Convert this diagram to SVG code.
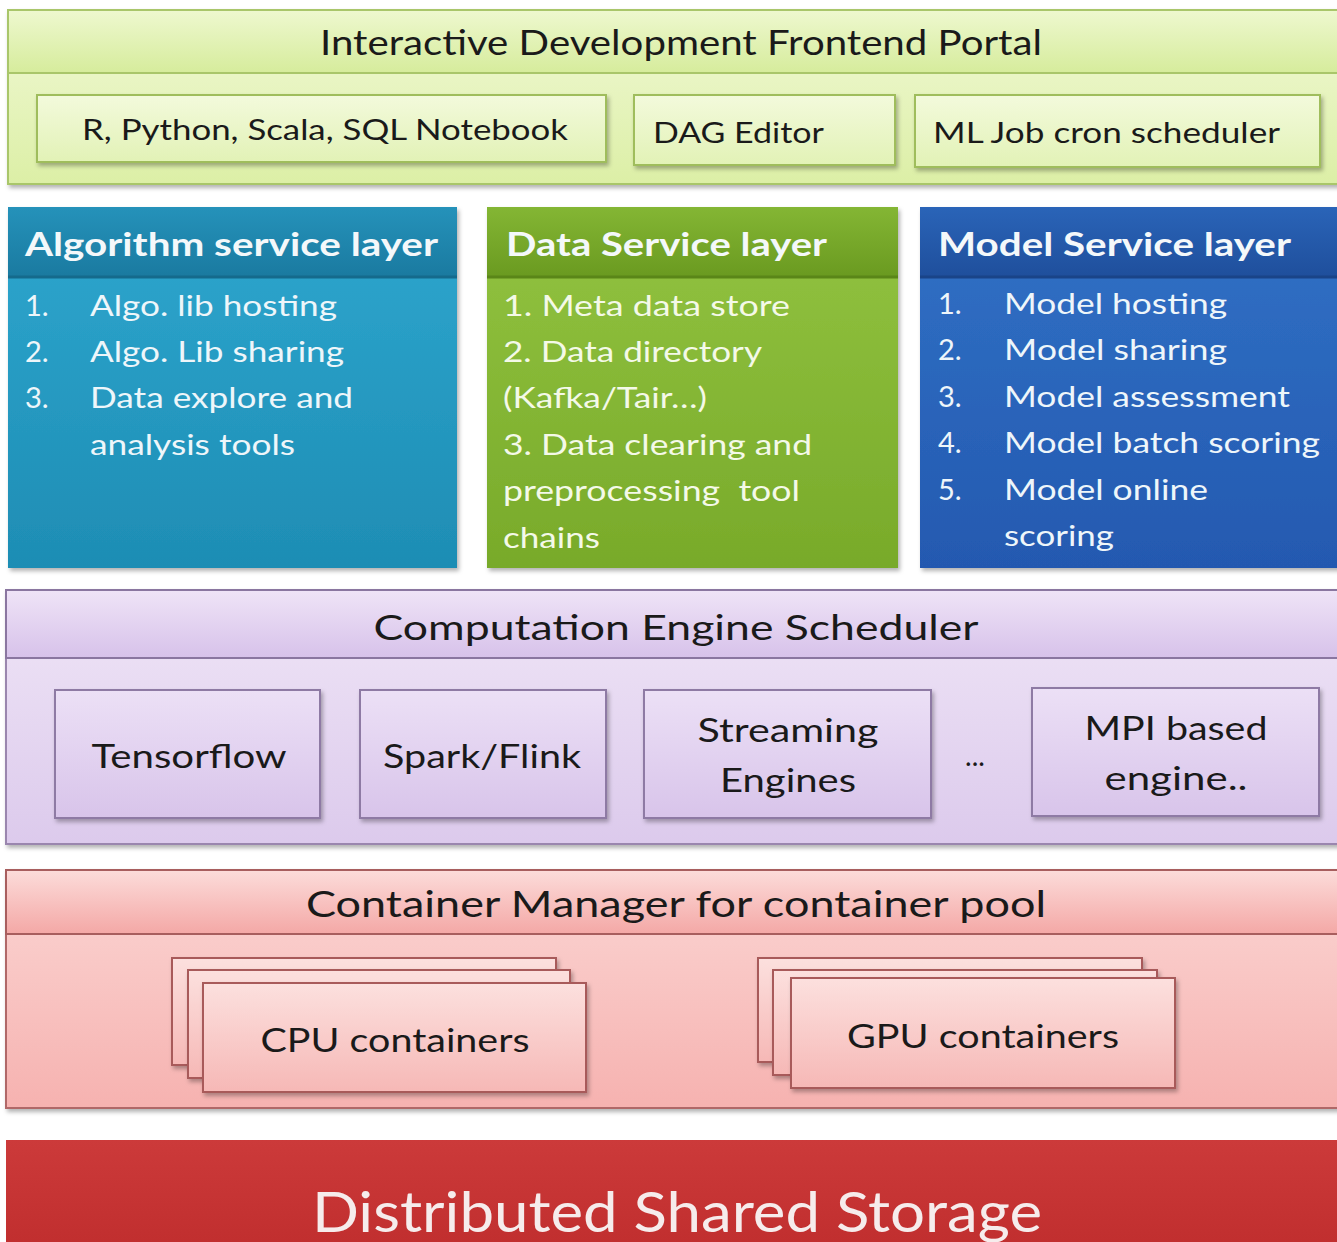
<svg xmlns="http://www.w3.org/2000/svg" width="1337" height="1242" viewBox="0 0 1337 1242">
  <defs>
    <filter id="shadow" x="-5%" y="-5%" width="112%" height="120%">
      <feDropShadow dx="2" dy="3" stdDeviation="2" flood-color="#000" flood-opacity="0.3"/>
    </filter>
    <linearGradient id="gPortal" x1="0" y1="0" x2="0" y2="1">
      <stop offset="0" stop-color="#f1f9d6"/>
      <stop offset="1" stop-color="#dcefa6"/>
    </linearGradient>
    <linearGradient id="gPortalHead" x1="0" y1="0" x2="0" y2="1">
      <stop offset="0" stop-color="#eef8cf"/>
      <stop offset="1" stop-color="#d6ec9c"/>
    </linearGradient>
    <linearGradient id="gPortalBox" x1="0" y1="0" x2="0" y2="1">
      <stop offset="0" stop-color="#f3fadc"/>
      <stop offset="1" stop-color="#e2f2b6"/>
    </linearGradient>
    <linearGradient id="gAlgo" x1="0" y1="0" x2="0" y2="1">
      <stop offset="0" stop-color="#2ea7cf"/>
      <stop offset="1" stop-color="#1e8db4"/>
    </linearGradient>
    <linearGradient id="gAlgoHead" x1="0" y1="0" x2="0" y2="1">
      <stop offset="0" stop-color="#2592ba"/>
      <stop offset="1" stop-color="#1a7aa0"/>
    </linearGradient>
    <linearGradient id="gData" x1="0" y1="0" x2="0" y2="1">
      <stop offset="0" stop-color="#93c441"/>
      <stop offset="1" stop-color="#78aa2a"/>
    </linearGradient>
    <linearGradient id="gDataHead" x1="0" y1="0" x2="0" y2="1">
      <stop offset="0" stop-color="#84b634"/>
      <stop offset="1" stop-color="#6a9a20"/>
    </linearGradient>
    <linearGradient id="gModel" x1="0" y1="0" x2="0" y2="1">
      <stop offset="0" stop-color="#3172c6"/>
      <stop offset="1" stop-color="#2459b0"/>
    </linearGradient>
    <linearGradient id="gModelHead" x1="0" y1="0" x2="0" y2="1">
      <stop offset="0" stop-color="#2a64b8"/>
      <stop offset="1" stop-color="#1f4f9c"/>
    </linearGradient>
    <linearGradient id="gComp" x1="0" y1="0" x2="0" y2="1">
      <stop offset="0" stop-color="#f0e6f7"/>
      <stop offset="1" stop-color="#dccaec"/>
    </linearGradient>
    <linearGradient id="gCompHead" x1="0" y1="0" x2="0" y2="1">
      <stop offset="0" stop-color="#efe4f7"/>
      <stop offset="1" stop-color="#d7c2ea"/>
    </linearGradient>
    <linearGradient id="gCompBox" x1="0" y1="0" x2="0" y2="1">
      <stop offset="0" stop-color="#ece0f6"/>
      <stop offset="1" stop-color="#d8c4ea"/>
    </linearGradient>
    <linearGradient id="gCont" x1="0" y1="0" x2="0" y2="1">
      <stop offset="0" stop-color="#fbd6d4"/>
      <stop offset="1" stop-color="#f6b2b0"/>
    </linearGradient>
    <linearGradient id="gContHead" x1="0" y1="0" x2="0" y2="1">
      <stop offset="0" stop-color="#fcdcda"/>
      <stop offset="1" stop-color="#f4a8a6"/>
    </linearGradient>
    <linearGradient id="gContBox" x1="0" y1="0" x2="0" y2="1">
      <stop offset="0" stop-color="#fce0de"/>
      <stop offset="1" stop-color="#f6b8b6"/>
    </linearGradient>
    <linearGradient id="gStore" x1="0" y1="0" x2="0" y2="1">
      <stop offset="0" stop-color="#cc3a3a"/>
      <stop offset="1" stop-color="#c02e2e"/>
    </linearGradient>
  </defs>
  <style>
    text { font-family: Lato, "Open Sans", "Liberation Sans", sans-serif; }
    .dark { fill: #1a1a1a; }
    .light { fill: #eef6fa; }
    .head { font-weight: bold; fill: #f4f8fa; }
    .portalBox { fill: url(#gPortalBox); stroke: #9fbd5c; stroke-width: 2; filter: url(#shadow); }
    .compBox { fill: url(#gCompBox); stroke: #8e7aa4; stroke-width: 2; filter: url(#shadow); }
    .contBox { fill: url(#gContBox); stroke: #a85a5a; stroke-width: 2; filter: url(#shadow); }
  </style>

  <rect width="1337" height="1242" fill="#ffffff"/>

  <!-- Frontend portal -->
  <g id="portal">
    <rect x="8" y="10" width="1335" height="174" fill="url(#gPortal)" stroke="#a9c66a" stroke-width="2" filter="url(#shadow)"/>
    <rect x="8" y="10" width="1335" height="63" fill="url(#gPortalHead)" stroke="#a9c66a" stroke-width="2"/>
    <text x="681" y="55" font-size="34" text-anchor="middle" class="dark" textLength="722" lengthAdjust="spacingAndGlyphs">Interactive Development Frontend Portal</text>
  </g>
  <g id="notebook">
    <rect x="37" y="95" width="569" height="67" class="portalBox"/>
    <text x="325" y="140" font-size="29" text-anchor="middle" class="dark" textLength="486" lengthAdjust="spacingAndGlyphs">R, Python, Scala, SQL Notebook</text>
  </g>
  <g id="dag-editor">
    <rect x="634" y="95" width="261" height="70" class="portalBox"/>
    <text x="653" y="143" font-size="29" class="dark" textLength="171" lengthAdjust="spacingAndGlyphs">DAG Editor</text>
  </g>
  <g id="cron-scheduler">
    <rect x="915" y="95" width="405" height="72" class="portalBox"/>
    <text x="933" y="143" font-size="29" class="dark" textLength="347" lengthAdjust="spacingAndGlyphs">ML Job cron scheduler</text>
  </g>

  <!-- Algorithm service layer -->
  <g id="algorithm-service">
    <rect x="8" y="207" width="449" height="361" fill="url(#gAlgo)" filter="url(#shadow)"/>
    <rect x="8" y="207" width="449" height="70" fill="url(#gAlgoHead)"/>
    <line x1="8" y1="277" x2="457" y2="277" stroke="#156a8c" stroke-width="3"/>
    <text x="25" y="256" font-size="33" class="head" textLength="413" lengthAdjust="spacingAndGlyphs">Algorithm service layer</text>
    <g font-size="29" class="light">
      <text x="25" y="316">1.</text>
      <text x="90" y="316" textLength="247" lengthAdjust="spacingAndGlyphs">Algo. lib hosting</text>
      <text x="25" y="362">2.</text>
      <text x="90" y="362" textLength="254" lengthAdjust="spacingAndGlyphs">Algo. Lib sharing</text>
      <text x="25" y="408">3.</text>
      <text x="90" y="408" textLength="263" lengthAdjust="spacingAndGlyphs">Data explore and</text>
      <text x="90" y="455" textLength="205" lengthAdjust="spacingAndGlyphs">analysis tools</text>
    </g>
  </g>

  <!-- Data service layer -->
  <g id="data-service">
    <rect x="487" y="207" width="411" height="361" fill="url(#gData)" filter="url(#shadow)"/>
    <rect x="487" y="207" width="411" height="70" fill="url(#gDataHead)"/>
    <line x1="487" y1="277" x2="898" y2="277" stroke="#5a8618" stroke-width="3"/>
    <text x="506" y="256" font-size="33" class="head" textLength="321" lengthAdjust="spacingAndGlyphs">Data Service layer</text>
    <g font-size="29" fill="#f4f9e8">
      <text x="503" y="316" textLength="287" lengthAdjust="spacingAndGlyphs">1. Meta data store</text>
      <text x="503" y="362" textLength="259" lengthAdjust="spacingAndGlyphs">2. Data directory</text>
      <text x="503" y="408" textLength="204" lengthAdjust="spacingAndGlyphs">(Kafka/Tair…)</text>
      <text x="503" y="455" textLength="309" lengthAdjust="spacingAndGlyphs">3. Data clearing and</text>
      <text x="503" y="501" textLength="297" lengthAdjust="spacingAndGlyphs" xml:space="preserve">preprocessing  tool</text>
      <text x="503" y="548" textLength="97" lengthAdjust="spacingAndGlyphs">chains</text>
    </g>
  </g>

  <!-- Model service layer -->
  <g id="model-service">
    <rect x="920" y="207" width="423" height="361" fill="url(#gModel)" filter="url(#shadow)"/>
    <rect x="920" y="207" width="423" height="70" fill="url(#gModelHead)"/>
    <line x1="920" y1="277" x2="1337" y2="277" stroke="#1a4488" stroke-width="3"/>
    <text x="938" y="256" font-size="33" class="head" textLength="353" lengthAdjust="spacingAndGlyphs">Model Service layer</text>
    <g font-size="29" class="light">
      <text x="938" y="314">1.</text>
      <text x="1004" y="314" textLength="223" lengthAdjust="spacingAndGlyphs">Model hosting</text>
      <text x="938" y="360">2.</text>
      <text x="1004" y="360" textLength="223" lengthAdjust="spacingAndGlyphs">Model sharing</text>
      <text x="938" y="407">3.</text>
      <text x="1004" y="407" textLength="286" lengthAdjust="spacingAndGlyphs">Model assessment</text>
      <text x="938" y="453">4.</text>
      <text x="1004" y="453" textLength="316" lengthAdjust="spacingAndGlyphs">Model batch scoring</text>
      <text x="938" y="500">5.</text>
      <text x="1004" y="500" textLength="204" lengthAdjust="spacingAndGlyphs">Model online</text>
      <text x="1004" y="546" textLength="110" lengthAdjust="spacingAndGlyphs">scoring</text>
    </g>
  </g>

  <!-- Computation engine scheduler -->
  <g id="compute-scheduler">
    <rect x="6" y="590" width="1337" height="254" fill="url(#gComp)" stroke="#9a86ae" stroke-width="2" filter="url(#shadow)"/>
    <rect x="6" y="590" width="1337" height="68" fill="url(#gCompHead)" stroke="#8a76a0" stroke-width="2"/>
    <text x="676" y="640" font-size="35" text-anchor="middle" class="dark" textLength="605" lengthAdjust="spacingAndGlyphs">Computation Engine Scheduler</text>
    <text x="975" y="766" font-size="28" text-anchor="middle" class="dark">...</text>
  </g>
  <g id="tensorflow">
    <rect x="55" y="690" width="265" height="128" class="compBox"/>
    <text x="189" y="768" font-size="32" text-anchor="middle" class="dark" textLength="195" lengthAdjust="spacingAndGlyphs">Tensorflow</text>
  </g>
  <g id="spark-flink">
    <rect x="360" y="690" width="246" height="128" class="compBox"/>
    <text x="482" y="768" font-size="32" text-anchor="middle" class="dark" textLength="198" lengthAdjust="spacingAndGlyphs">Spark/Flink</text>
  </g>
  <g id="streaming">
    <rect x="644" y="690" width="287" height="128" class="compBox"/>
    <text x="788" y="742" font-size="32" text-anchor="middle" class="dark" textLength="181" lengthAdjust="spacingAndGlyphs">Streaming</text>
    <text x="788" y="792" font-size="32" text-anchor="middle" class="dark" textLength="136" lengthAdjust="spacingAndGlyphs">Engines</text>
  </g>
  <g id="mpi-engine">
    <rect x="1032" y="688" width="287" height="128" class="compBox"/>
    <text x="1176" y="740" font-size="32" text-anchor="middle" class="dark" textLength="183" lengthAdjust="spacingAndGlyphs">MPI based</text>
    <text x="1176" y="790" font-size="32" text-anchor="middle" class="dark" textLength="143" lengthAdjust="spacingAndGlyphs">engine..</text>
  </g>

  <!-- Container manager -->
  <g id="container-manager">
    <rect x="6" y="870" width="1337" height="238" fill="url(#gCont)" stroke="#b06868" stroke-width="2" filter="url(#shadow)"/>
    <rect x="6" y="870" width="1337" height="64" fill="url(#gContHead)" stroke="#a85e5e" stroke-width="2"/>
    <text x="676" y="917" font-size="37" text-anchor="middle" class="dark" textLength="740" lengthAdjust="spacingAndGlyphs">Container Manager for container pool</text>
  </g>
  <g id="cpu-containers">
    <rect x="172" y="958" width="384" height="107" class="contBox"/>
    <rect x="188" y="970" width="382" height="108" class="contBox"/>
    <rect x="203" y="983" width="383" height="109" class="contBox"/>
    <text x="395" y="1052" font-size="32" text-anchor="middle" class="dark" textLength="269" lengthAdjust="spacingAndGlyphs">CPU containers</text>
  </g>
  <g id="gpu-containers">
    <rect x="758" y="958" width="384" height="104" class="contBox"/>
    <rect x="773" y="970" width="384" height="105" class="contBox"/>
    <rect x="791" y="978" width="384" height="110" class="contBox"/>
    <text x="983" y="1048" font-size="32" text-anchor="middle" class="dark" textLength="272" lengthAdjust="spacingAndGlyphs">GPU containers</text>
  </g>

  <!-- Distributed storage -->
  <g id="shared-storage">
    <rect x="6" y="1140" width="1337" height="110" fill="url(#gStore)"/>
    <text x="677" y="1232" font-size="56" text-anchor="middle" fill="#f6ecec" textLength="730" lengthAdjust="spacingAndGlyphs">Distributed Shared Storage</text>
  </g>

  <!-- No connectors are drawn: the layers are stacked blocks -->
  <g id="connectors"/>
</svg>
